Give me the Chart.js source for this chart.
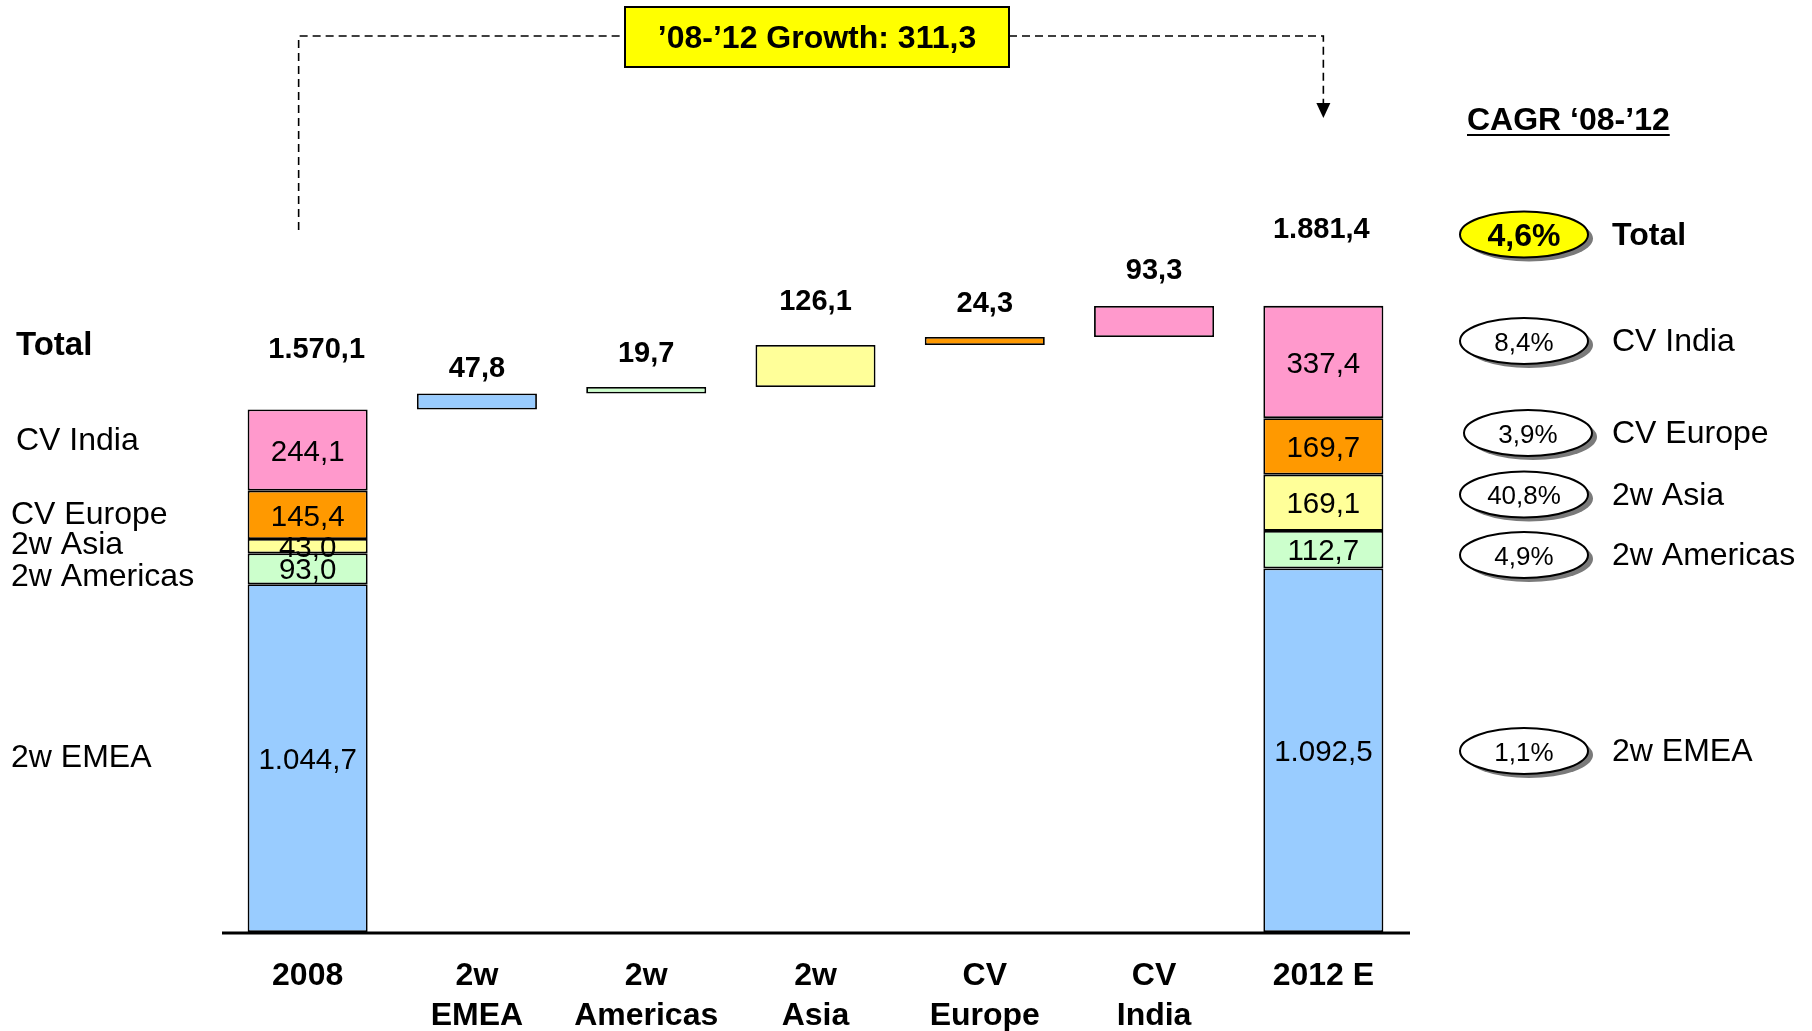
<!DOCTYPE html>
<html>
<head>
<meta charset="utf-8">
<script src="https://cdn.jsdelivr.net/npm/chart.js@4/dist/chart.umd.min.js"></script>
<style>
  html, body { margin: 0; padding: 0; background: #ffffff; }
  #wrap { width: 1812px; height: 1031px; position: relative; }
</style>
</head>
<body>
<div id="wrap"><canvas id="c" width="1812" height="1031"></canvas></div>
<script>
// ---------------- DATA ----------------
const categories = [['2008'], ['2w', 'EMEA'], ['2w', 'Americas'], ['2w', 'Asia'], ['CV', 'Europe'], ['CV', 'India'], ['2012 E']];
const segmentNames = ['2w EMEA', '2w Americas', '2w Asia', 'CV Europe', 'CV India'];
const values2008 = [1044.7, 93.0, 43.0, 145.4, 244.1];
const values2012 = [1092.5, 112.7, 169.1, 169.7, 337.4];
const deltas = [47.8, 19.7, 126.1, 24.3, 93.3];
const totals = [1570.1, 1881.4];
const growth = 311.3;
const cagrTotal = 4.6;
const cagrSegments = [1.1, 4.9, 40.8, 3.9, 8.4];

// ---------------- STYLE ----------------
const segColors = ['#99CCFF', '#CCFFCC', '#FFFF99', '#FF9900', '#FF99CC'];
const FONT = '"Liberation Sans", Arial, Helvetica, sans-serif';
const TY = 2.5; // text vertical nudge

function fmt(v) {
  const s = v.toFixed(1);
  let [ip, dp] = s.split('.');
  ip = ip.replace(/\B(?=(\d{3})+(?!\d))/g, '.');
  return ip + ',' + dp;
}

// Build floating-bar ranges from the arrays
function cumStarts(arr) { const out = []; let c = 0; arr.forEach(v => { out.push(c); c += v; }); return out; }
const s2008 = cumStarts(values2008);
const s2012 = cumStarts(values2012);
const deltaStarts = []; { let c = totals[0]; deltas.forEach(d => { deltaStarts.push(c); c += d; }); }

const datasets = segmentNames.map((name, k) => {
  const data = categories.map(() => null);
  data[0] = [s2008[k], s2008[k] + values2008[k]];
  data[k + 1] = [deltaStarts[k], deltaStarts[k] + deltas[k]];
  data[categories.length - 1] = [s2012[k], s2012[k] + values2012[k]];
  return {
    label: name,
    data: data,
    backgroundColor: segColors[k],
    borderColor: '#000000',
    borderWidth: 1.8,
    borderSkipped: false,
    barPercentage: 0.709,
    categoryPercentage: 1.0
  };
});

// Annotation layout (pixel placement of texts)
const layoutCfg = {
  totalGap: [62, 78], totalDx: [9, -2],
  deltaGap: [27, 36, 46, 35, 37],
  leftLabels: [
    { t: 'Total', x: 16, y: 343, bold: true, size: 33 },
    { t: 'CV India', x: 16, y: 439 },
    { t: 'CV Europe', x: 11, y: 513 },
    { t: '2w Asia', x: 11, y: 543 },
    { t: '2w Americas', x: 11, y: 575 },
    { t: '2w EMEA', x: 11, y: 756 }
  ],
  ellipseY: [751, 555, 494.5, 433, 341], // per segment (EMEA..CV India)
  ellipseX: [1524, 1524, 1524, 1528, 1524],
  totalEllipse: { x: 1524, y: 234.5 },
  rightTextX: 1612
};

const annot = {
  id: 'annot',
  afterDraw(chart) {
    const ctx = chart.ctx;
    const xs = chart.scales.x, ys = chart.scales.y;
    const ca = chart.chartArea;
    const n = categories.length;
    ctx.save();
    ctx.fillStyle = '#000';
    ctx.textBaseline = 'middle';

    // axis line
    ctx.strokeStyle = '#000';
    ctx.lineWidth = 3;
    ctx.beginPath();
    ctx.moveTo(ca.left - 1, ys.getPixelForValue(0) + 1);
    ctx.lineTo(ca.right + 2, ys.getPixelForValue(0) + 1);
    ctx.stroke();

    // x category labels
    ctx.textAlign = 'center';
    ctx.font = 'bold 32px ' + FONT;
    categories.forEach((lab, i) => {
      const x = xs.getPixelForValue(i);
      lab.forEach((line, j) => ctx.fillText(line, x, 976 + j * 40));
    });

    // segment values inside stacked bars
    ctx.font = '29.5px ' + FONT;
    [[0, values2008, s2008], [n - 1, values2012, s2012]].forEach(([ci, vals, starts]) => {
      const x = xs.getPixelForValue(ci);
      vals.forEach((v, k) => {
        const ym = ys.getPixelForValue(starts[k] + v / 2);
        ctx.fillText(fmt(v), x, ym + TY);
      });
    });

    // totals above stacked bars
    ctx.font = 'bold 29px ' + FONT;
    [[0, totals[0]], [n - 1, totals[1]]].forEach(([ci, v], j) => {
      const x = xs.getPixelForValue(ci) + layoutCfg.totalDx[j];
      const top = ys.getPixelForValue(v);
      ctx.fillText(fmt(v), x, top - layoutCfg.totalGap[j] + TY);
    });

    // delta labels
    deltas.forEach((d, k) => {
      const x = xs.getPixelForValue(k + 1);
      const top = ys.getPixelForValue(deltaStarts[k] + d);
      ctx.fillText(fmt(d), x, top - layoutCfg.deltaGap[k] + TY);
    });

    // left series labels
    ctx.textAlign = 'left';
    layoutCfg.leftLabels.forEach(l => {
      ctx.font = (l.bold ? 'bold ' : '') + (l.size || 32) + 'px ' + FONT;
      ctx.fillText(l.t, l.x, l.y + TY);
    });

    // top growth connector
    const xL = xs.getPixelForValue(0) - 9;
    const xR = xs.getPixelForValue(n - 1);
    const yTop = 36;
    const boxL = 625, boxR = 1009, boxT = 7, boxB = 67;
    ctx.strokeStyle = '#000';
    ctx.lineWidth = 1.6;
    ctx.setLineDash([8, 5]);
    ctx.beginPath();
    ctx.moveTo(xL, 230); ctx.lineTo(xL, yTop); ctx.lineTo(boxL, yTop);
    ctx.moveTo(boxR, yTop); ctx.lineTo(xR, yTop); ctx.lineTo(xR, 104);
    ctx.stroke();
    ctx.setLineDash([]);
    ctx.beginPath();
    ctx.moveTo(xR - 7, 103); ctx.lineTo(xR + 7, 103); ctx.lineTo(xR, 118); ctx.closePath();
    ctx.fill();

    ctx.fillStyle = '#FFFF00';
    ctx.fillRect(boxL, boxT, boxR - boxL, boxB - boxT);
    ctx.lineWidth = 2;
    ctx.strokeRect(boxL, boxT, boxR - boxL, boxB - boxT);
    ctx.fillStyle = '#000';
    ctx.textAlign = 'center';
    ctx.font = 'bold 32px ' + FONT;
    ctx.fillText('\u201908-\u201912 Growth: ' + fmt(growth), (boxL + boxR) / 2, 37 + TY);

    // CAGR title
    ctx.textAlign = 'left';
    ctx.font = 'bold 32px ' + FONT;
    const title = 'CAGR \u201808-\u201912';
    ctx.fillText(title, 1467, 119 + TY);
    const tw = ctx.measureText(title).width;
    ctx.lineWidth = 2.2;
    ctx.beginPath(); ctx.moveTo(1467, 135); ctx.lineTo(1467 + tw, 135); ctx.stroke();

    // ellipses
    function ell(cx, cy, fill, text, font) {
      ctx.fillStyle = '#7a7a7a';
      ctx.beginPath(); ctx.ellipse(cx + 5, cy + 4, 64, 23, 0, 0, Math.PI * 2); ctx.fill();
      ctx.fillStyle = fill;
      ctx.beginPath(); ctx.ellipse(cx, cy, 64, 23, 0, 0, Math.PI * 2); ctx.fill();
      ctx.strokeStyle = '#000'; ctx.lineWidth = 2; ctx.stroke();
      ctx.fillStyle = '#000';
      ctx.textAlign = 'center';
      ctx.font = font;
      ctx.fillText(text, cx, cy + TY);
    }
    const pct = v => v.toFixed(1).replace('.', ',') + '%';
    ell(layoutCfg.totalEllipse.x, layoutCfg.totalEllipse.y, '#FFFF00', pct(cagrTotal), 'bold 32px ' + FONT);
    ctx.textAlign = 'left';
    ctx.font = 'bold 32px ' + FONT;
    ctx.fillText('Total', layoutCfg.rightTextX, layoutCfg.totalEllipse.y - 1 + TY);
    cagrSegments.forEach((v, k) => {
      ell(layoutCfg.ellipseX[k], layoutCfg.ellipseY[k], '#FFFFFF', pct(v), '26px ' + FONT);
      ctx.textAlign = 'left';
      ctx.font = '32px ' + FONT;
      ctx.fillText(segmentNames[k], layoutCfg.rightTextX, layoutCfg.ellipseY[k] - 1 + TY);
    });
    ctx.restore();
  }
};

new Chart(document.getElementById('c'), {
  type: 'bar',
  data: { labels: categories, datasets: datasets },
  options: {
    responsive: false,
    animation: false,
    events: [],
    layout: { padding: { left: 223, right: 404, top: 100, bottom: 99 } },
    plugins: { legend: { display: false }, tooltip: { enabled: false }, title: { display: false } },
    scales: {
      x: { display: false, stacked: true },
      y: { display: false, stacked: false, min: 0, max: 2500 }
    }
  },
  plugins: [annot]
});
</script>
</body>
</html>
